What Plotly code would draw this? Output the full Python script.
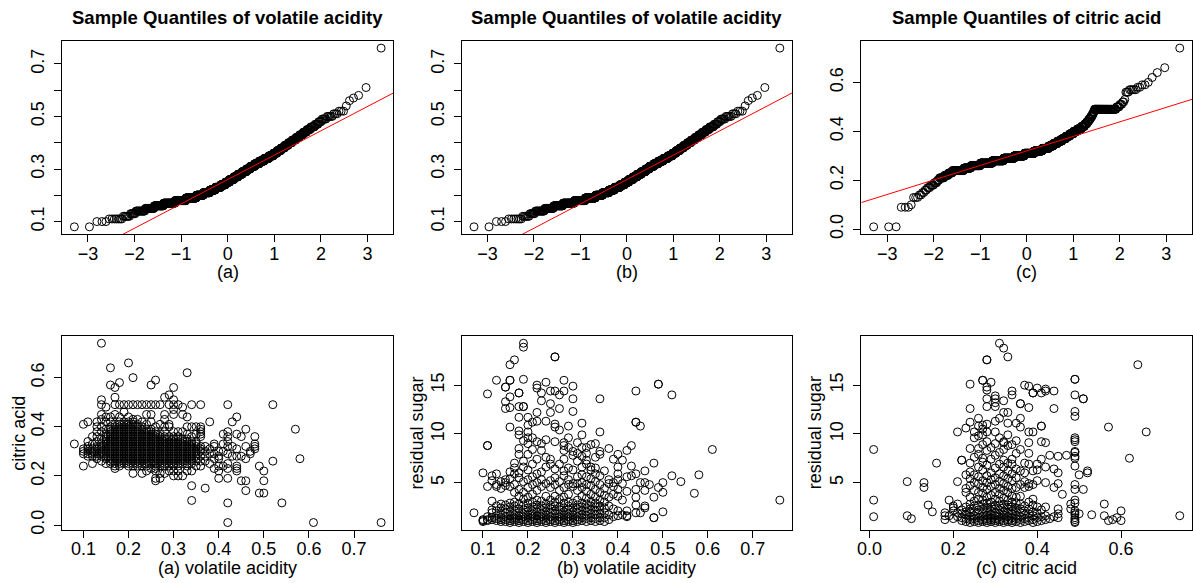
import numpy as np
import plotly.graph_objects as go
from statistics import NormalDist

# ---------------- data ----------------
# Frequency table of volatile acidity (sample used in QQ plots (a) and (b))
va_levels = [0.08, 0.10, 0.11, 0.12, 0.13, 0.14, 0.15, 0.16, 0.17, 0.18, 0.19, 0.20,
             0.21, 0.22, 0.23, 0.24, 0.25, 0.26, 0.27, 0.28, 0.29, 0.30, 0.31, 0.32,
             0.33, 0.34, 0.35, 0.36, 0.37, 0.38, 0.39, 0.40, 0.41, 0.42, 0.43, 0.44,
             0.45, 0.46, 0.47, 0.48, 0.49, 0.50, 0.51, 0.52, 0.54, 0.56, 0.57, 0.58,
             0.61, 0.76]
va_counts = [2, 3, 7, 6, 6, 14, 19, 27, 45, 56, 65, 50,
             50, 45, 45, 40, 36, 36, 35, 35, 33, 31, 32, 32,
             32, 29, 25, 19, 18, 16, 14, 13, 12, 10, 9, 8,
             7, 7, 5, 4, 5, 5, 3, 3, 1, 1, 1, 1,
             1, 1]

# Frequency table of citric acid (sample used in QQ plot (c))
ca_levels = [0.01, 0.09, 0.10, 0.13, 0.14, 0.15, 0.16, 0.17, 0.18, 0.19, 0.20, 0.21,
             0.22, 0.23, 0.24, 0.25, 0.26, 0.27, 0.28, 0.29, 0.30, 0.31, 0.32, 0.33,
             0.34, 0.35, 0.36, 0.37, 0.38, 0.39, 0.40, 0.41, 0.42, 0.43, 0.44, 0.45,
             0.46, 0.47, 0.48, 0.49, 0.50, 0.51, 0.52, 0.53, 0.56, 0.57, 0.58, 0.59,
             0.60, 0.62, 0.64, 0.66, 0.74]
ca_counts = [3, 3, 1, 3, 2, 2, 2, 3, 4, 4, 3, 8,
             8, 9, 33, 27, 44, 71, 79, 85, 86, 84, 66, 50,
             35, 30, 30, 25, 22, 21, 19, 18, 13, 9, 7, 6,
             5, 4, 3, 46, 4, 3, 2, 1, 3, 5, 2, 2,
             1, 1, 1, 1, 1]

# Scatter (a): volatile acidity (columns) vs citric acid (in hundredths)
sa_va = [0.08, 0.10, 0.11, 0.12, 0.13, 0.14, 0.15, 0.16, 0.17, 0.18, 0.19, 0.20, 0.21,
         0.22, 0.23, 0.24, 0.25, 0.26, 0.27, 0.28, 0.29, 0.30, 0.31, 0.32, 0.33, 0.34,
         0.35, 0.36, 0.37, 0.38, 0.39, 0.40, 0.41, 0.42, 0.43, 0.44, 0.45, 0.46, 0.47,
         0.48, 0.49, 0.50, 0.52, 0.54, 0.57, 0.58, 0.61, 0.76]
sa_ca_hundredths = [
    [33],
    [24, 29, 30, 31, 41],
    [28, 29, 30, 31, 32, 34, 42],
    [25, 28, 29, 30, 31, 33, 36],
    [27, 28, 29, 30, 31, 32, 34, 36, 38, 40, 42],
    [26, 28, 29, 30, 31, 32, 33, 35, 38, 40, 43, 45, 49, 51, 74],
    [25, 27, 28, 29, 30, 31, 32, 33, 34, 35, 36, 37, 39, 42, 44, 48],
    [25, 26, 27, 28, 29, 30, 31, 32, 33, 34, 35, 36, 37, 38, 39, 40, 42, 44, 57, 64],
    [23, 24, 25, 26, 27, 28, 29, 30, 31, 32, 33, 34, 35, 36, 37, 38, 39, 40, 41, 45, 49, 52, 56],
    [24, 25, 26, 27, 28, 29, 30, 31, 32, 33, 34, 35, 36, 37, 38, 39, 40, 41, 42, 44, 49, 58],
    [25, 26, 27, 28, 29, 30, 31, 32, 33, 34, 35, 36, 37, 38, 39, 40, 41, 42, 46, 49],
    [24, 25, 26, 27, 28, 29, 30, 31, 32, 33, 34, 35, 36, 37, 38, 39, 40, 41, 42, 44, 49, 66],
    [21, 24, 25, 26, 27, 28, 29, 30, 31, 32, 33, 34, 35, 36, 37, 38, 39, 40, 41, 42, 43, 49, 60],
    [24, 25, 26, 27, 28, 29, 30, 31, 32, 33, 34, 35, 36, 37, 38, 39, 40, 41, 43, 49],
    [21, 24, 25, 26, 27, 28, 29, 30, 31, 32, 33, 34, 35, 36, 37, 38, 39, 40, 42, 49],
    [22, 24, 25, 26, 27, 28, 29, 30, 31, 32, 33, 34, 35, 36, 37, 38, 39, 41, 45, 49],
    [23, 25, 26, 27, 28, 29, 30, 31, 32, 33, 34, 35, 36, 37, 38, 39, 42, 45, 49, 57],
    [18, 19, 22, 23, 24, 25, 26, 27, 28, 29, 30, 31, 32, 33, 34, 35, 36, 37, 38, 40, 49, 59],
    [19, 21, 24, 25, 26, 27, 28, 29, 30, 31, 32, 33, 34, 35, 36, 37, 41, 49],
    [21, 24, 25, 26, 27, 28, 29, 30, 31, 32, 33, 34, 35, 36, 38, 40, 43, 45, 52],
    [22, 24, 25, 26, 27, 28, 29, 30, 31, 32, 33, 34, 35, 36, 40, 41, 49, 53],
    [20, 22, 24, 25, 26, 27, 28, 29, 30, 31, 32, 33, 34, 35, 36, 38, 45, 47, 49, 51, 56],
    [20, 22, 24, 25, 26, 27, 28, 29, 30, 31, 32, 33, 34, 35, 36, 38, 49],
    [20, 25, 26, 27, 28, 29, 30, 31, 32, 33, 34, 35, 38, 45, 48],
    [22, 24, 25, 26, 27, 28, 29, 30, 31, 32, 33, 34, 35, 37, 40, 44, 62],
    [10, 16, 22, 25, 26, 27, 28, 29, 30, 31, 32, 33, 34, 36, 40, 49],
    [24, 26, 27, 28, 29, 30, 31, 32, 33, 34, 37, 40],
    [24, 26, 28, 30, 31, 32, 36, 37, 38, 39, 40, 49],
    [15, 26, 28, 30, 32],
    [25, 29, 31, 42],
    [23, 27, 29, 32, 33],
    [19, 22, 24, 27, 28, 30],
    [24, 30, 33, 37],
    [1, 9, 19, 23, 25, 29, 32, 34, 36, 38, 49],
    [28, 32, 42],
    [22, 23, 24, 28, 31, 37, 44],
    [18, 28, 36],
    [14, 18, 27, 32, 39],
    [29, 30],
    [31, 32, 33, 36],
    [13, 24],
    [13, 18, 22],
    [26, 49],
    [9],
    [39],
    [27],
    [1],
    [1],
]

# Scatter (b): volatile acidity (columns) vs residual sugar
sb_va = [0.08, 0.10, 0.11, 0.12, 0.13, 0.14, 0.15, 0.16, 0.17, 0.18, 0.19, 0.20, 0.21,
         0.22, 0.23, 0.24, 0.25, 0.26, 0.27, 0.28, 0.29, 0.30, 0.31, 0.32, 0.33, 0.34,
         0.35, 0.36, 0.37, 0.38, 0.39, 0.40, 0.41, 0.42, 0.43, 0.44, 0.45, 0.46, 0.47,
         0.48, 0.49, 0.50, 0.52, 0.54, 0.57, 0.58, 0.61, 0.76]
sb_rs = [
    [1.9],
    [1.0, 1.1, 1.2, 6.0],
    [1.1, 1.2, 1.5, 4.6, 8.8, 8.8, 14.1],
    [1.2, 1.4, 1.9, 2.2, 3.1, 5.2, 5.7],
    [1.1, 1.3, 1.6, 2.1, 2.6, 4.6, 4.8, 5.9, 15.5],
    [1.0, 1.2, 1.4, 1.8, 2.4, 2.8, 4.4, 5.1],
    [1.0, 1.2, 1.5, 1.9, 2.3, 2.7, 4.7, 5.0, 5.3, 12.6, 13.3, 14.8, 14.8],
    [0.9, 1.1, 1.3, 1.6, 2.0, 2.5, 2.9, 4.6, 5.4, 6.1, 10.7, 12.7, 13.8, 15.5, 15.5, 17.1],
    [1.0, 1.2, 1.4, 1.7, 2.1, 2.6, 3.0, 4.0, 4.8, 5.9, 6.5, 7.0, 17.6],
    [0.9, 1.1, 1.3, 1.6, 1.9, 2.3, 2.8, 3.6, 4.3, 5.5, 6.0, 7.9, 8.5, 9.9, 10.3, 11.7, 12.8, 14.2, 14.2],
    [1.0, 1.2, 1.5, 1.8, 2.2, 2.7, 3.3, 4.0, 5.1, 6.6, 7.2, 9.3, 12.8, 12.8, 15.6, 18.9, 19.3],
    [0.9, 1.1, 1.4, 1.7, 2.0, 2.4, 2.9, 3.5, 4.5, 5.3, 6.3, 7.9, 9.0, 9.6, 10.2, 10.9, 11.7],
    [1.0, 1.2, 1.5, 1.8, 2.1, 2.5, 3.0, 3.8, 4.8, 5.6, 6.9, 8.4, 9.6, 11.2],
    [0.9, 1.1, 1.3, 1.6, 2.0, 2.3, 2.7, 3.2, 4.2, 5.0, 5.9, 7.4, 9.2, 11.3, 12.2, 14.7, 15.0],
    [1.0, 1.2, 1.5, 1.8, 2.2, 2.6, 3.1, 4.6, 5.3, 6.1, 8.3, 9.0, 13.4, 14.2],
    [0.9, 1.1, 1.4, 1.7, 2.0, 2.4, 2.8, 3.6, 4.9, 6.6, 7.6, 9.4, 11.3, 15.3],
    [1.0, 1.2, 1.5, 1.9, 2.3, 2.7, 3.2, 4.5, 5.2, 6.9, 7.4, 12.2, 13.1, 14.4],
    [0.9, 1.1, 1.4, 1.8, 2.1, 2.6, 3.0, 3.6, 4.8, 5.5, 6.4, 9.2, 10.7, 11.0, 14.4, 17.9, 17.9],
    [1.0, 1.2, 1.5, 1.8, 2.2, 2.5, 3.3, 4.2, 5.1, 6.9, 10.4, 12.6, 14.0],
    [0.9, 1.1, 1.4, 1.7, 2.0, 2.4, 2.9, 3.5, 4.5, 5.7, 6.2, 7.4, 8.3, 8.8, 9.1, 14.4, 15.5],
    [1.0, 1.2, 1.5, 1.8, 2.2, 2.6, 3.0, 3.8, 4.8, 5.3, 6.5, 8.6, 9.6, 10.8],
    [0.9, 1.1, 1.4, 1.7, 2.0, 2.4, 2.9, 4.6, 4.9, 6.3, 7.8, 8.2, 12.3, 13.6, 14.9],
    [1.0, 1.2, 1.5, 1.9, 2.3, 2.7, 3.2, 4.2, 4.9, 5.6, 7.2, 8.0, 9.1],
    [1.1, 1.4, 1.7, 2.1, 2.5, 2.9, 3.6, 4.5, 5.0, 5.8, 6.6, 7.7, 8.6, 9.9, 11.1],
    [1.0, 1.3, 1.6, 2.0, 2.4, 2.8, 3.4, 4.1, 4.8, 5.6, 6.9, 7.3, 8.0, 8.6],
    [1.1, 1.4, 1.8, 2.2, 2.6, 3.0, 3.8, 4.7, 5.4, 6.3, 6.6, 8.9],
    [1.0, 1.3, 1.7, 2.1, 2.5, 2.9, 3.5, 4.3, 5.1, 5.9, 6.5, 7.6, 9.0],
    [1.1, 1.4, 1.8, 2.2, 2.6, 3.2, 4.0, 4.8, 5.7, 7.9, 8.2, 10.2, 13.6],
    [1.0, 1.4, 1.9, 2.4, 3.0, 3.7, 4.4, 6.2],
    [1.2, 1.7, 2.6, 3.5, 4.9, 5.3, 8.5],
    [1.5, 2.3, 3.8, 4.6, 5.0, 7.4],
    [1.6, 2.1, 3.6, 4.3, 5.3, 5.9, 6.6, 7.9],
    [1.7, 3.2, 4.9, 7.3],
    [1.5, 1.6, 2.1, 4.1, 5.6, 8.3],
    [5.7, 6.7, 8.8],
    [1.9, 2.7, 3.5, 4.3, 5.9, 11.2, 11.2, 14.4],
    [1.9, 5.0, 10.8],
    [2.4, 2.6, 4.2, 5.0, 6.2],
    [4.8],
    [1.4, 1.4, 3.5, 7.0],
    [4.5, 15.1, 15.1],
    [2.0, 4.0, 5.0],
    [5.7, 14.0],
    [5.1],
    [3.9],
    [5.8],
    [8.4],
    [3.2],
]

# Scatter (c): citric acid (columns) vs residual sugar
sc_ca = [0.01, 0.09, 0.10, 0.13, 0.14, 0.15, 0.16, 0.18, 0.19, 0.20, 0.21, 0.22, 0.23,
         0.24, 0.25, 0.26, 0.27, 0.28, 0.29, 0.30, 0.31, 0.32, 0.33, 0.34, 0.35, 0.36,
         0.37, 0.38, 0.39, 0.40, 0.41, 0.42, 0.43, 0.44, 0.45, 0.46, 0.47, 0.48, 0.49,
         0.50, 0.51, 0.52, 0.53, 0.56, 0.57, 0.58, 0.59, 0.60, 0.62, 0.64, 0.66, 0.74]
sc_rs = [
    [1.5, 3.2, 8.4],
    [1.6, 5.1],
    [1.3],
    [4.5, 5.0],
    [2.7],
    [2.0],
    [7.0],
    [1.2, 1.6, 1.9],
    [1.6, 3.2],
    [1.3, 2.1, 2.4, 2.6],
    [1.5, 1.9, 2.8, 5.1, 10.2],
    [1.1, 1.4, 1.8, 2.2, 7.3, 7.3],
    [1.0, 1.3, 1.7, 2.0, 2.5, 4.0, 4.4, 5.8, 10.6],
    [0.9, 1.2, 1.5, 1.9, 2.3, 2.8, 3.5, 4.7, 5.4, 6.1, 7.0, 8.5, 11.2, 12.6, 15.1],
    [1.0, 1.3, 1.6, 2.0, 2.6, 3.1, 4.2, 5.0, 5.8, 7.6, 9.6, 10.2],
    [0.9, 1.1, 1.4, 1.8, 2.2, 2.7, 3.3, 4.0, 4.9, 5.6, 6.6, 7.9, 8.5, 9.8, 10.8, 11.6],
    [1.0, 1.2, 1.5, 1.9, 2.3, 2.8, 3.2, 3.9, 4.5, 5.2, 6.3, 7.1, 7.5, 8.9, 9.9, 10.5, 10.9, 15.5, 15.5],
    [0.9, 1.1, 1.3, 1.6, 2.0, 2.4, 2.9, 3.5, 4.3, 5.0, 5.7, 6.8, 8.3, 9.2, 10.2, 11.0, 12.8, 13.6, 14.5, 14.8, 17.6, 17.6],
    [1.0, 1.2, 1.4, 1.7, 2.1, 2.5, 3.0, 3.7, 4.6, 5.3, 6.0, 7.4, 8.6, 15.3],
    [0.9, 1.1, 1.3, 1.6, 1.9, 2.3, 2.7, 3.3, 4.0, 4.8, 5.5, 6.5, 7.8, 9.0, 10.2, 11.3, 12.8, 13.2, 13.6, 13.9],
    [1.0, 1.2, 1.5, 1.8, 2.2, 2.6, 3.1, 3.8, 4.4, 5.1, 5.9, 6.9, 8.1, 9.6, 11.6, 19.3],
    [0.9, 1.1, 1.4, 1.7, 2.0, 2.4, 2.8, 3.4, 4.2, 4.9, 5.7, 6.6, 7.3, 8.4, 9.1, 9.2, 12.2, 13.4, 18.8],
    [1.0, 1.2, 1.5, 1.9, 2.3, 2.7, 3.2, 4.0, 4.6, 5.4, 6.2, 7.0, 8.8, 9.9, 11.1, 12.2, 17.9],
    [0.9, 1.1, 1.4, 1.8, 2.1, 2.5, 3.0, 3.6, 4.4, 5.2, 5.9, 6.9, 7.4, 8.9, 14.0, 14.4],
    [1.0, 1.3, 1.6, 2.0, 2.4, 2.9, 3.5, 4.5, 5.5, 6.4, 8.0, 9.3, 11.1],
    [0.9, 1.2, 1.5, 1.9, 2.3, 2.8, 3.6, 4.8, 6.2, 8.4, 10.7, 11.6, 13.1, 13.1],
    [1.0, 1.3, 1.7, 2.1, 2.6, 4.5, 5.1, 6.0, 7.0, 15.0],
    [1.1, 1.4, 1.8, 2.3, 3.0, 4.6, 4.9, 6.9, 8.0, 9.1, 10.2, 12.7, 14.9],
    [0.9, 1.2, 1.6, 2.0, 2.7, 3.3, 4.8, 6.2, 10.2, 14.2, 14.2],
    [1.0, 1.4, 1.9, 2.5, 5.2, 6.3, 6.9, 14.7],
    [1.1, 1.5, 2.2, 7.4, 9.2, 10.8, 10.8, 14.2],
    [1.2, 1.6, 2.5, 5.0, 6.6, 9.1, 14.4, 14.6],
    [1.3, 7.8],
    [1.5, 4.5, 6.4, 12.6, 14.4],
    [1.4, 1.8, 2.3, 4.9, 6.0, 7.7],
    [3.8],
    [7.8],
    [2.3, 2.8],
    [0.9, 1.0, 1.2, 1.4, 1.7, 1.9, 2.1, 2.9, 3.2, 4.3, 4.8, 6.7, 7.5, 7.7, 8.1, 8.2, 9.2, 9.4, 9.6, 11.8, 12.3, 14.0, 15.6, 15.6],
    [1.8, 5.8],
    [4.3, 13.6, 13.6],
    [6.0, 6.2],
    [1.7],
    [1.6, 2.8],
    [1.1, 10.7],
    [1.2],
    [1.4],
    [1.1, 2.1],
    [7.5],
    [17.1],
    [10.2],
    [1.6],
]

titles = ["Sample Quantiles of volatile acidity", "Sample Quantiles of volatile acidity",
          "Sample Quantiles of citric acid"]
top_xlabels = ["(a)", "(b)", "(c)"]
bottom_xlabels = ["(a) volatile acidity", "(b) volatile acidity", "(c) citric acid"]
bottom_ylabels = ["citric acid", "residual sugar", "residual sugar"]

# ---------------- helpers ----------------
W, H = 1193, 583
FONT = "Liberation Sans, Arial, Helvetica, sans-serif"
nd = NormalDist()


def flatten(xs, ys, scale=1.0):
    fx, fy = [], []
    for x, col in zip(xs, ys):
        for y in col:
            fx.append(x)
            fy.append(y * scale)
    return np.array(fx), np.array(fy)


def r_range(v):
    lo, hi = float(np.min(v)), float(np.max(v))
    pad = 0.04 * (hi - lo)
    return [lo - pad, hi + pad]


colx = [(58.3, 390.7), (459.3, 790.7), (860.3, 1192.0)]
rowy = [(41.3, 236.0), (339.0, 534.3)]


def xdom(c):
    return [colx[c][0] / W, colx[c][1] / W]


def ydom(r):
    return [1 - rowy[r][1] / H, 1 - rowy[r][0] / H]


marker = dict(symbol="circle-open", size=8, color="black", line=dict(width=1, color="black"))

fig = go.Figure()
layout = dict(width=W, height=H, margin=dict(l=0, r=0, t=0, b=0),
              paper_bgcolor="white", plot_bgcolor="white", showlegend=False,
              font=dict(family=FONT, color="black", size=18))

axis_common = dict(showline=True, mirror=True, linecolor="black", linewidth=1,
                   ticks="outside", ticklen=7, tickwidth=1, tickcolor="black",
                   showgrid=False, zeroline=False, tickmode="array",
                   tickfont=dict(family=FONT, size=18, color="black"))
XSTAND = -4
YSTAND = 3


def fmt(vals, show, digits):
    return [(f"{v:.{digits}f}" if s else "") for v, s in zip(vals, show)]


# ---------------- QQ plots ----------------
va_sample = np.repeat(np.array(va_levels), np.array(va_counts))
ca_sample = np.repeat(np.array(ca_levels), np.array(ca_counts))
qq_samples = [va_sample, va_sample, ca_sample]

for c, samp in enumerate(qq_samples):
    idx = c + 1
    n = len(samp)
    srt = np.sort(samp)
    theo = np.array([nd.inv_cdf((i - 0.5) / n) for i in range(1, n + 1)])
    xr = r_range(theo)
    yr = r_range(srt)
    q1, q3 = np.percentile(srt, [25, 75])
    z1, z3 = nd.inv_cdf(0.25), nd.inv_cdf(0.75)
    slope = (q3 - q1) / (z3 - z1)
    inter = q1 - slope * z1
    xs = "x" if idx == 1 else f"x{idx}"
    ys = "y" if idx == 1 else f"y{idx}"
    fig.add_trace(go.Scatter(x=theo, y=srt, mode="markers", marker=marker,
                             xaxis=xs, yaxis=ys, hoverinfo="skip"))
    fig.add_trace(go.Scatter(x=xr, y=[inter + slope * xr[0], inter + slope * xr[1]],
                             mode="lines", line=dict(color="red", width=1),
                             xaxis=xs, yaxis=ys, hoverinfo="skip"))
    xt = [-3, -2, -1, 0, 1, 2, 3]
    if c < 2:
        yt = [0.1, 0.2, 0.3, 0.4, 0.5, 0.6, 0.7]
        ytt = fmt(yt, [True, False, True, False, True, False, True], 1)
    else:
        yt = [0.0, 0.2, 0.4, 0.6]
        ytt = fmt(yt, [True] * 4, 1)
    layout[f"xaxis{idx}"] = dict(axis_common, domain=xdom(c), range=xr, anchor=ys,
                                 tickvals=xt, ticklabelstandoff=XSTAND,
                                 ticktext=[str(v).replace("-", "\u2212") for v in xt])
    layout[f"yaxis{idx}"] = dict(axis_common, domain=ydom(0), range=yr, anchor=xs,
                                 tickvals=yt, ticktext=ytt, tickangle=-90,
                                 ticklabelstandoff=YSTAND)

# ---------------- scatter plots ----------------
ax_, ay_ = flatten(sa_va, sa_ca_hundredths, 0.01)
bx_, by_ = flatten(sb_va, sb_rs)
cx_, cy_ = flatten(sc_ca, sc_rs)
scatters = [(ax_, ay_), (bx_, by_), (cx_, cy_)]
xticks = [([0.1, 0.2, 0.3, 0.4, 0.5, 0.6, 0.7], 1), ([0.1, 0.2, 0.3, 0.4, 0.5, 0.6, 0.7], 1),
          ([0.0, 0.2, 0.4, 0.6], 1)]
yticks = [([0.0, 0.2, 0.4, 0.6], 1), ([5, 10, 15], 0), ([5, 10, 15], 0)]

for c, (sx, sy) in enumerate(scatters):
    idx = c + 4
    xs, ys = f"x{idx}", f"y{idx}"
    fig.add_trace(go.Scatter(x=sx, y=sy, mode="markers", marker=marker,
                             xaxis=xs, yaxis=ys, hoverinfo="skip"))
    xv, xd = xticks[c]
    yv, yd = yticks[c]
    layout[f"xaxis{idx}"] = dict(axis_common, domain=xdom(c), range=r_range(sx), anchor=ys,
                                 tickvals=xv, ticktext=fmt(xv, [True] * len(xv), xd),
                                 ticklabelstandoff=XSTAND)
    layout[f"yaxis{idx}"] = dict(axis_common, domain=ydom(1), range=r_range(sy), anchor=xs,
                                 tickvals=yv, ticktext=fmt(yv, [True] * len(yv), yd),
                                 tickangle=-90, ticklabelstandoff=YSTAND)

# ---------------- text ----------------
ann = []
for c in range(3):
    cx = (colx[c][0] + colx[c][1]) / 2 / W
    ann.append(dict(text=f"<b>{titles[c]}</b>", x=cx, y=1 - 18 / H, xref="paper", yref="paper",
                    showarrow=False, xanchor="center", yanchor="middle",
                    font=dict(family=FONT, size=18.5, color="black")))
    ann.append(dict(text=top_xlabels[c], x=cx, y=1 - 274 / H, xref="paper", yref="paper",
                    showarrow=False, xanchor="center", yanchor="middle",
                    font=dict(family=FONT, size=18, color="black")))
    ann.append(dict(text=bottom_xlabels[c], x=cx, y=1 - 572.5 / H, xref="paper", yref="paper",
                    showarrow=False, xanchor="center", yanchor="middle",
                    font=dict(family=FONT, size=18, color="black")))
# rotated titles: anchor the right edge of the rotated box just left of the tick labels
ylab_right = [27.0, 426.0, 826.0]
for c in range(3):
    ann.append(dict(text=bottom_ylabels[c], x=ylab_right[c] / W, y=1 - 436.7 / H,
                    xref="paper", yref="paper", showarrow=False, textangle=-90,
                    xanchor="right", yanchor="middle",
                    font=dict(family=FONT, size=18, color="black")))
layout["annotations"] = ann

fig.update_layout(**layout)
fig.write_html("out.html",
               config={"displayModeBar": False},
               post_script="document.body.style.margin='0px';"
                           "document.body.style.overflow='hidden';")
